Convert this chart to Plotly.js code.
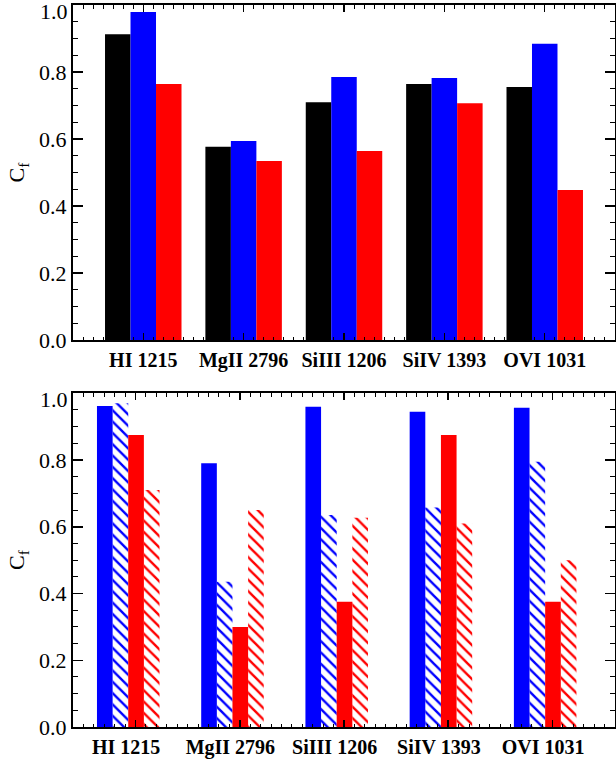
<!DOCTYPE html>
<html>
<head>
<meta charset="utf-8">
<script src="https://cdn.plot.ly/plotly-3.0.1.min.js"></script>
<style>html,body{margin:0;padding:0;background:#fff;}#chart{width:616px;height:759px;}</style>
</head>
<body>
<div id="chart"></div>
<script>
// ---- data ----
const categories = ['HI 1215', 'MgII 2796', 'SiIII 1206', 'SiIV 1393', 'OVI 1031'];
// top panel
const topBlack = [0.913, 0.577, 0.710, 0.764, 0.755];
const topBlue  = [0.979, 0.594, 0.785, 0.782, 0.884];
const topRed   = [0.764, 0.534, 0.564, 0.707, 0.448];
// bottom panel
const botBlueSolid = [0.962, 0.790, 0.960, 0.945, 0.957];
const botBlueHatch = [0.970, 0.435, 0.635, 0.658, 0.795];
const botRedSolid  = [0.875, 0.300, 0.375, 0.875, 0.375];
const botRedHatch  = [0.710, 0.650, 0.627, 0.610, 0.500];
const yTickVals = [0.0, 0.2, 0.4, 0.6, 0.8];
const yTopLabel = 1.0;
const yTitle = 'C<sub>f</sub>';

// ---- layout helpers ----
const xs = categories.map((_, i) => i + 1);
const serif = "'Liberation Serif', 'Times New Roman', serif";
const BLUE = '#0000ff', RED = '#ff0000', BLACK = '#000000';

function bar(y, color, xa, ya, offset, width, hatch) {
  const t = {
    type: 'bar', x: xs, y: y, xaxis: xa, yaxis: ya,
    offset: offset, width: width, showlegend: false, hoverinfo: 'skip',
    marker: { color: color, line: { width: 0 } }
  };
  if (hatch) {
    t.marker.pattern = { shape: '\\', fgcolor: color, bgcolor: 'rgba(0,0,0,0)', size: 8, solidity: 0.3, fillmode: 'replace' };
  }
  return t;
}
function dummy(xa, ya) {
  return { type: 'scatter', mode: 'markers', x: [null], y: [null], xaxis: xa, yaxis: ya, showlegend: false, hoverinfo: 'skip' };
}

const wTop = 0.254, wBot = 0.15;
const data = [
  bar(topBlack, BLACK, 'x', 'y', -1.5 * wTop, wTop),
  bar(topBlue,  BLUE,  'x', 'y', -0.5 * wTop, wTop),
  bar(topRed,   RED,   'x', 'y',  0.5 * wTop, wTop),
  bar(botBlueSolid, BLUE, 'x2', 'y2', -0.37, wBot),
  bar(botBlueHatch, BLUE, 'x2', 'y2', -0.37 + wBot, wBot, true),
  bar(botRedSolid,  RED,  'x2', 'y2', -0.37 + 2 * wBot, wBot),
  bar(botRedHatch,  RED,  'x2', 'y2', -0.37 + 3 * wBot, wBot, true),
  dummy('x3', 'y'),
  dummy('x4', 'y2')
];

function tickAxis(range, anchor) {
  return {
    anchor: anchor, range: range, tickmode: 'linear', tick0: 1, dtick: 1,
    ticks: 'inside', ticklen: 7, tickwidth: 1.5, tickcolor: '#000',
    showticklabels: false, showline: true, linewidth: 2, linecolor: '#000',
    mirror: 'ticks', showgrid: false, zeroline: false, fixedrange: true,
    minor: { tick0: 0, dtick: 0.1, ticks: 'inside', ticklen: 3.5, tickwidth: 1, tickcolor: '#000', showgrid: false }
  };
}
function labelAxis(range, anchor, over, vals) {
  return {
    anchor: anchor, overlaying: over, side: 'bottom', range: range, tickmode: 'array',
    tickvals: vals, ticktext: categories.map(c => '<b>' + c + '</b>'),
    ticks: '', showline: false, showgrid: false, zeroline: false, fixedrange: true,
    tickfont: { family: serif, size: 20, color: '#000' }, ticklabelstandoff: 6
  };
}
function yAxis(domain, anchor) {
  return {
    domain: domain, anchor: anchor, range: [0, 1], tickmode: 'array',
    tickvals: yTickVals, ticktext: yTickVals.map(v => v.toFixed(1)),
    ticks: 'inside', ticklen: 10, tickwidth: 1.5, tickcolor: '#000',
    showline: true, linewidth: 2, linecolor: '#000', mirror: 'ticks',
    showgrid: false, zeroline: false, fixedrange: true,
    tickfont: { family: serif, size: 22, color: '#000' },
    minor: { tick0: 0, dtick: 0.05, ticks: 'inside', ticklen: 5, tickwidth: 1, tickcolor: '#000', showgrid: false },
    title: { text: yTitle, font: { family: serif, size: 22, color: '#000' }, standoff: 8 }
  };
}
function topLabel(xref, yref) {
  return {
    xref: xref + ' domain', yref: yref, x: 0, y: yTopLabel, xanchor: 'right', yanchor: 'top',
    xshift: -3, yshift: 8, showarrow: false, text: yTopLabel.toFixed(1),
    font: { family: serif, size: 22, color: '#000' }
  };
}

const rTop = [0.3, 5.7], rBot = [0.4, 5.6];
const layout = {
  width: 616, height: 759,
  margin: { l: 73, r: 1, t: 5, b: 32 },
  paper_bgcolor: '#fff', plot_bgcolor: '#fff',
  barmode: 'overlay', showlegend: false,
  xaxis: tickAxis(rTop, 'y'),
  xaxis3: labelAxis(rTop, 'y', 'x', xs),
  yaxis: yAxis([0.536, 1], 'x'),
  xaxis2: tickAxis(rBot, 'y2'),
  xaxis4: labelAxis(rBot, 'y2', 'x2', xs.map(v => v - 0.09)),
  yaxis2: yAxis([0, 0.4622], 'x2'),
  annotations: [topLabel('x', 'y'), topLabel('x2', 'y2')]
};

Plotly.newPlot('chart', data, layout, { staticPlot: true, displayModeBar: false });
</script>
</body>
</html>
